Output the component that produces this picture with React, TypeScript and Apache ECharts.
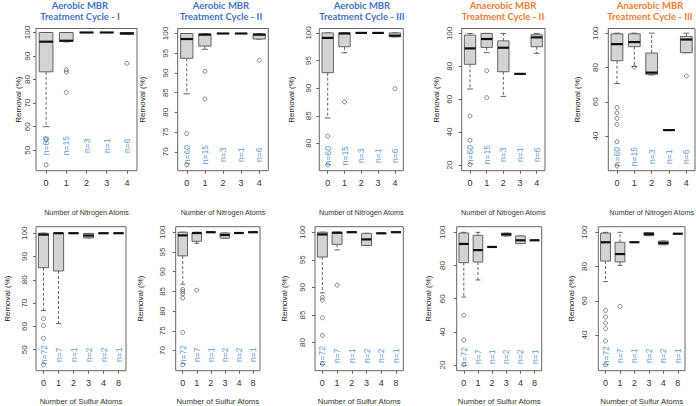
import React, { useEffect, useRef } from "react";
import * as echarts from "echarts";

const nitrogenCats = ["0", "1", "2", "3", "4"];
const sulfurCats = ["0", "1", "2", "3", "4", "8"];

// box stats per category: [min, Q1, median, Q3, max]
const aerI_N_box = [[60, 83.3, 96.1, 100, 100], [96, 96.3, 96.5, 100, 100], [100, 100, 100, 100, 100], [100, 100, 100, 100, 100], [99.3, 99.3, 99.6, 100, 100]];
const aerI_N_out = [[0, 54.5], [0, 43.8], [1, 84.2], [1, 83.2], [1, 74.6], [4, 86.9]];
const aerI_N_n = [60, 15, 3, 1, 6];

const aerII_N_box = [[84.7, 93.7, 98.6, 100, 100], [96.0, 96.8, 99.7, 99.9, 100], [100, 100, 100, 100, 100], [100, 100, 100, 100, 100], [98.6, 98.6, 99.7, 99.9, 100]];
const aerII_N_out = [[0, 74.6], [0, 66.7], [1, 90.4], [1, 83.4], [4, 93.2]];
const aerII_N_n = [60, 15, 3, 1, 6];

const aerIII_N_box = [[84.6, 92.8, 99.1, 100, 100], [96.4, 97.5, 99.9, 100, 100], [100, 100, 100, 100, 100], [100, 100, 100, 100, 100], [99.3, 99.3, 99.5, 100, 100]];
const aerIII_N_out = [[0, 81.3], [0, 76.1], [1, 87.5], [4, 89.9]];
const aerIII_N_n = [60, 15, 3, 1, 6];

const anII_N_box = [[66.2, 81.2, 90.9, 99.0, 100], [88.3, 91.5, 96.6, 100, 100], [61.7, 76.7, 91.3, 95.5, 100], [75.4, 75.4, 75.4, 75.4, 75.4], [87.9, 91.9, 97.6, 99.2, 100]];
const anII_N_out = [[0, 49.8], [0, 35.0], [0, 20.2], [1, 77.3], [1, 60.9]];
const anII_N_n = [60, 15, 3, 1, 6];

const anIII_N_box = [[70.6, 83.9, 93.6, 99.6, 100], [80.5, 92.1, 94.8, 99.6, 100], [75.6, 76.0, 77.0, 88.4, 100], [43.5, 43.5, 43.5, 43.5, 43.5], [88.6, 88.6, 96.3, 98.1, 100]];
const anIII_N_out = [[0, 56.7], [0, 53.5], [0, 50.3], [0, 46.8], [0, 36.7], [0, 22.6], [1, 80.2], [4, 75.0]];
const anIII_N_n = [60, 15, 3, 1, 6];

const aerI_S_box = [[66.8, 85.2, 99.4, 100, 100], [61.2, 83.8, 100, 100, 100], [100, 100, 100, 100, 100], [98.0, 98.0, 99.0, 99.9, 99.9], [100, 100, 100, 100, 100], [100, 100, 100, 100, 100]];
const aerI_S_out = [[0, 63.3], [0, 60.4], [0, 54.9], [0, 43.6]];
const aerI_S_n = [72, 7, 1, 2, 2, 1];

const aerII_S_box = [[86.8, 94.0, 99.2, 100, 100], [97.2, 97.7, 99.8, 99.9, 100], [100, 100, 100, 100, 100], [98.5, 98.5, 99.3, 99.8, 99.8], [99.8, 99.8, 99.8, 99.8, 99.8], [100, 100, 100, 100, 100]];
const aerII_S_out = [[0, 85.5], [0, 85.0], [0, 84.4], [0, 83.3], [0, 74.6], [0, 66.4], [1, 85.3]];
const aerII_S_n = [72, 7, 1, 2, 2, 1];

const aerIII_S_box = [[89.0, 95.5, 99.6, 100, 100], [96.8, 97.8, 99.9, 100, 100], [100, 100, 100, 100, 100], [97.6, 97.6, 98.7, 99.8, 99.8], [99.8, 99.8, 99.8, 99.8, 99.8], [100, 100, 100, 100, 100]];
const aerIII_S_out = [[0, 88.2], [0, 87.7], [0, 84.5], [0, 81.3], [0, 76.1], [1, 90.4]];
const aerIII_S_n = [72, 7, 1, 2, 2, 1];

const anII_S_box = [[61.0, 81.7, 93.0, 99.6, 100], [71.3, 82.1, 89.3, 98.2, 100], [91.2, 91.2, 91.2, 91.2, 91.2], [97.9, 97.9, 98.8, 99.5, 99.5], [93.2, 93.2, 95.2, 97.8, 97.8], [95.2, 95.2, 95.2, 95.2, 95.2]];
const anII_S_out = [[0, 50.0], [0, 35.1], [0, 20.2]];
const anII_S_n = [72, 7, 1, 2, 2, 1];

const anIII_S_box = [[71.2, 83.2, 94.2, 99.6, 100], [80.7, 82.7, 87.3, 94.2, 100], [94.2, 94.2, 94.2, 94.2, 94.2], [98.1, 98.1, 99.0, 99.9, 99.9], [92.8, 92.8, 93.8, 94.9, 94.9], [99.2, 99.2, 99.2, 99.2, 99.2]];
const anIII_S_out = [[0, 54.4], [0, 50.5], [0, 47.0], [0, 43.7], [0, 36.5], [0, 22.6], [1, 56.6]];
const anIII_S_n = [72, 7, 1, 2, 2, 1];

const ticksBy10 = [50, 60, 70, 80, 90, 100];
const ticksBy5From70 = [70, 75, 80, 85, 90, 95, 100];
const ticksBy5From80 = [80, 85, 90, 95, 100];
const ticksBy20From20 = [20, 40, 60, 80, 100];
const ticksBy20From40 = [40, 60, 80, 100];

const titles = [
  { l1: "Aerobic MBR", l2: "Treatment Cycle - I", color: "#4472C4", x: 80 },
  { l1: "Aerobic MBR", l2: "Treatment Cycle - II", color: "#4472C4", x: 221 },
  { l1: "Aerobic MBR", l2: "Treatment Cycle - III", color: "#4472C4", x: 362 },
  { l1: "Anaerobic MBR", l2: "Treatment Cycle - II", color: "#ED7D31", x: 503 },
  { l1: "Anaerobic MBR", l2: "Treatment Cycle - III", color: "#ED7D31", x: 650 },
];

const AX_FONT = "'Liberation Sans', Arial, sans-serif";

type Panel = {
  cats: string[]; box: number[][]; out: number[][]; n: number[]; ticks: number[];
  yMin: number; yMax: number; left: number; top: number; width: number; height: number;
  xName: string; xNameGap: number; xNameSize: number; yNameGap: number; yLabelMargin: number; nOffset: number;
};

const topRow = { top: 28.5, height: 142.2, xName: "Number of Nitrogen Atoms", xNameGap: 38, xNameSize: 7.2 };
const botRow = { top: 226.7, height: 144, xName: "Number of Sulfur Atoms", xNameGap: 27, xNameSize: 7.8 };

const panels: Panel[] = [
  { ...topRow, cats: nitrogenCats, box: aerI_N_box, out: aerI_N_out, n: aerI_N_n, ticks: ticksBy10, yMin: 41.3, yMax: 101.7, left: 36, width: 101, yNameGap: 10, yLabelMargin: 5, nOffset: 25 },
  { ...topRow, cats: nitrogenCats, box: aerII_N_box, out: aerII_N_out, n: aerII_N_n, ticks: ticksBy5From70, yMin: 65.2, yMax: 101.27, left: 177.7, width: 90.6, yNameGap: 31, yLabelMargin: 8, nOffset: 16 },
  { ...topRow, cats: nitrogenCats, box: aerIII_N_box, out: aerIII_N_out, n: aerIII_N_n, ticks: ticksBy5From80, yMin: 75.05, yMax: 100.8, left: 319.3, width: 84, yNameGap: 24, yLabelMargin: 7, nOffset: 15 },
  { ...topRow, cats: nitrogenCats, box: anII_N_box, out: anII_N_out, n: anII_N_n, ticks: ticksBy20From20, yMin: 16.5, yMax: 103, left: 461.7, width: 83.3, yNameGap: 21, yLabelMargin: 8, nOffset: 16 },
  { ...topRow, cats: nitrogenCats, box: anIII_N_box, out: anIII_N_out, n: anIII_N_n, ticks: ticksBy20From40, yMin: 19.85, yMax: 102.7, left: 608.3, width: 86.7, yNameGap: 27, yLabelMargin: 9, nOffset: 14 },
  { ...botRow, cats: sulfurCats, box: aerI_S_box, out: aerI_S_out, n: aerI_S_n, ticks: ticksBy10, yMin: 41.0, yMax: 102.8, left: 36, width: 90, yNameGap: 25, yLabelMargin: 8, nOffset: 16 },
  { ...botRow, cats: sulfurCats, box: aerII_S_box, out: aerII_S_out, n: aerII_S_n, ticks: ticksBy5From70, yMin: 64.9, yMax: 101.4, left: 175.7, width: 84.3, yNameGap: 31, yLabelMargin: 9, nOffset: 16 },
  { ...botRow, cats: sulfurCats, box: aerIII_S_box, out: aerIII_S_out, n: aerIII_S_n, ticks: ticksBy5From80, yMin: 74.9, yMax: 101.0, left: 315, width: 88.3, yNameGap: 27, yLabelMargin: 9, nOffset: 15 },
  { ...botRow, cats: sulfurCats, box: anII_S_box, out: anII_S_out, n: anII_S_n, ticks: ticksBy20From20, yMin: 16.6, yMax: 103.4, left: 456.7, width: 85, yNameGap: 24, yLabelMargin: 10, nOffset: 14 },
  { ...botRow, cats: sulfurCats, box: anIII_S_box, out: anIII_S_out, n: anIII_S_n, ticks: ticksBy20From40, yMin: 19.1, yMax: 103.3, left: 598.3, width: 86.7, yNameGap: 23, yLabelMargin: 10, nOffset: 15 },
];

function renderBox(params: any, api: any) {
  const x = api.value(0);
  const cx = api.coord([x, api.value(3)])[0];
  const yMin = api.coord([x, api.value(1)])[1];
  const yQ1 = api.coord([x, api.value(2)])[1];
  const yMed = api.coord([x, api.value(3)])[1];
  const yQ3 = api.coord([x, api.value(4)])[1];
  const yMax = api.coord([x, api.value(5)])[1];
  const band = api.size([1, 0])[0];
  const bw = band * 0.68;
  const sw = bw * 0.5;
  const stroke = "#555";
  const children: any[] = [];
  if (yMin - yQ1 > 0.3) {
    children.push({ type: "line", shape: { x1: cx, y1: yQ1, x2: cx, y2: yMin }, style: { stroke, lineWidth: 0.9, lineDash: [3, 2] } });
  }
  if (yQ3 - yMax > 0.3) {
    children.push({ type: "line", shape: { x1: cx, y1: yQ3, x2: cx, y2: yMax }, style: { stroke, lineWidth: 0.9, lineDash: [3, 2] } });
  }
  children.push({ type: "line", shape: { x1: cx - sw / 2, y1: yMin, x2: cx + sw / 2, y2: yMin }, style: { stroke, lineWidth: 0.9 } });
  children.push({ type: "line", shape: { x1: cx - sw / 2, y1: yMax, x2: cx + sw / 2, y2: yMax }, style: { stroke, lineWidth: 0.9 } });
  children.push({ type: "rect", shape: { x: cx - bw / 2, y: yQ3, width: bw, height: Math.max(yQ1 - yQ3, 0) }, style: { fill: "#d3d3d3", stroke, lineWidth: 0.9 } });
  children.push({ type: "line", shape: { x1: cx - bw / 2, y1: yMed, x2: cx + bw / 2, y2: yMed }, style: { stroke: "#111", lineWidth: 2.2 } });
  return { type: "group", children };
}

export default function App() {
  const ref = useRef<HTMLDivElement>(null);
  useEffect(() => {
    if (!ref.current) return;
    const chart = echarts.init(ref.current, null, { renderer: "svg" });
    const grid = panels.map((p) => ({
      left: p.left, top: p.top, width: p.width, height: p.height,
      show: true, borderColor: "#666", borderWidth: 1, backgroundColor: "transparent",
      containLabel: false, outerBoundsMode: "none",
    }));
    const xAxis: any[] = panels.map((p, i) => ({
      type: "category", gridIndex: i, data: p.cats, boundaryGap: true,
      axisLine: { show: false },
      axisTick: { show: true, alignWithLabel: true, length: 3, lineStyle: { color: "#666" } },
      axisLabel: { fontSize: 9, color: "#333", margin: 8, interval: 0, fontFamily: AX_FONT },
      name: p.xName, nameLocation: "middle", nameGap: p.xNameGap,
      nameTextStyle: { fontSize: p.xNameSize, color: "#333", fontFamily: AX_FONT },
      splitLine: { show: false },
    }));
    // sample-size labels: a label-only category axis inside each panel
    panels.forEach((p, i) => {
      xAxis.push({
        type: "category", gridIndex: i, data: p.n.map((n) => "n=" + n), boundaryGap: true,
        position: "bottom", offset: -p.nOffset,
        axisLine: { show: false }, axisTick: { show: false }, splitLine: { show: false },
        axisLabel: {
          interval: 0, rotate: 90, margin: 0, align: "center", verticalAlign: "middle",
          color: "#5B9BD5", fontSize: 8.5, fontFamily: AX_FONT,
        },
      });
    });
    const yAxis = panels.map((p, i) => ({
      type: "value", gridIndex: i, min: p.yMin, max: p.yMax,
      splitLine: { show: false },
      axisLine: { show: false },
      axisTick: { show: true, customValues: p.ticks, length: 3, lineStyle: { color: "#666" } },
      axisLabel: { customValues: p.ticks, rotate: 90, fontSize: 8, color: "#444", margin: p.yLabelMargin, fontFamily: AX_FONT },
      name: "Removal (%)", nameLocation: "middle", nameGap: p.yNameGap,
      nameTextStyle: { fontSize: 8, color: "#222", fontFamily: AX_FONT },
    }));
    const series: any[] = [];
    panels.forEach((p, i) => {
      series.push({
        type: "custom", xAxisIndex: i, yAxisIndex: i, silent: true,
        renderItem: renderBox,
        data: p.box.map((b, k) => [k, b[0], b[1], b[2], b[3], b[4]]),
        encode: { x: 0, y: [1, 2, 3, 4, 5] },
        z: 2,
      });
      series.push({
        type: "scatter", xAxisIndex: i, yAxisIndex: i, silent: true,
        data: p.out, symbol: "circle", symbolSize: 4,
        itemStyle: { color: "rgba(0,0,0,0)", borderColor: "#444", borderWidth: 0.8 },
        z: 3,
      });
    });
    const graphic: any[] = [];
    titles.forEach((t, i) => {
      graphic.push({
        id: "title" + i, type: "text", x: t.x, y: 0,
        style: {
          text: t.l1 + "\n" + t.l2, fill: t.color, fontSize: 9.5, fontWeight: "bold",
          fontFamily: "Lato, 'Open Sans', sans-serif", lineHeight: 11, align: "center", verticalAlign: "top",
        },
      });
    });
    graphic.push({ id: "dot", type: "text", x: 543, y: 11, style: { text: ".", fill: "#888", fontSize: 8 } });
    chart.setOption({
      animation: false,
      backgroundColor: "#fff",
      grid, xAxis, yAxis, series, graphic,
    });
    return () => chart.dispose();
  }, []);
  return <div ref={ref} style={{ position: "fixed", left: 0, top: 0, width: 696, height: 406 }} />;
}
